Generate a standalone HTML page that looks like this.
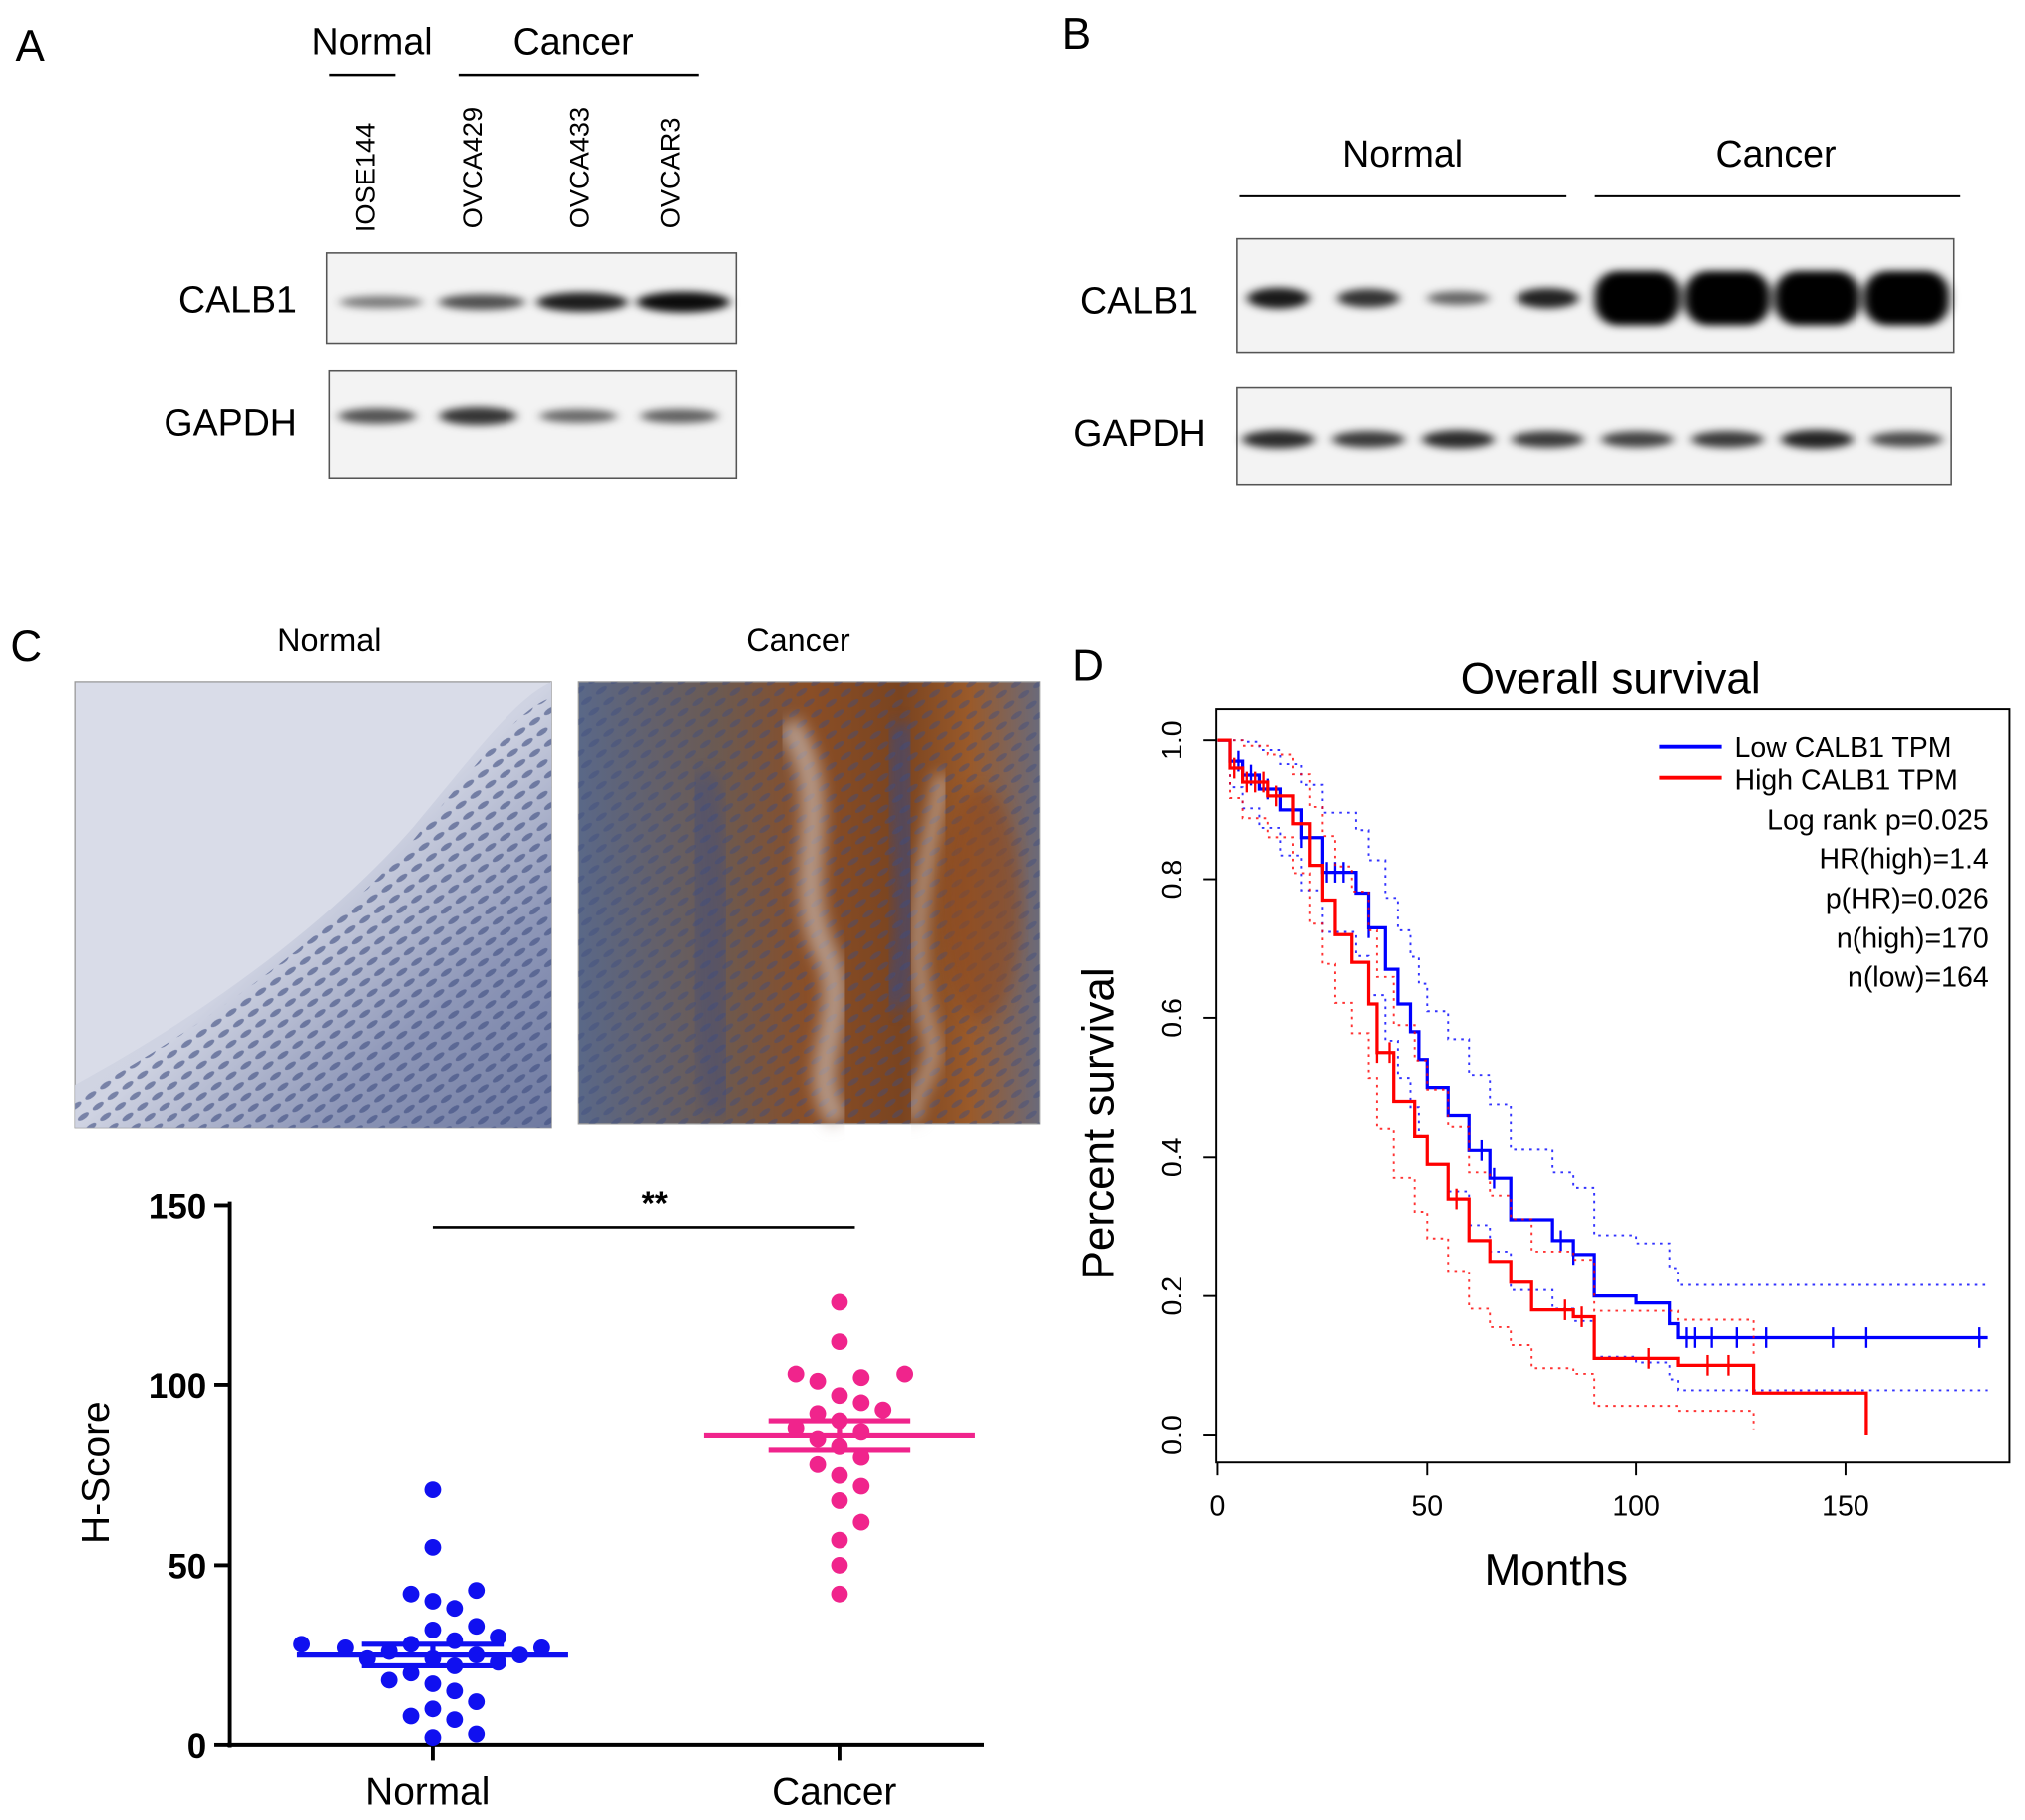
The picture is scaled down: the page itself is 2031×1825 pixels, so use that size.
<!DOCTYPE html>
<html><head><meta charset="utf-8"><style>
html,body{margin:0;padding:0;background:#fff;}
svg{display:block;font-family:"Liberation Sans",Arial,sans-serif;}
</style></head><body>
<svg id="fig" width="2031" height="1825" viewBox="0 0 1568 1409" xmlns="http://www.w3.org/2000/svg">
<defs>
<filter id="blur" x="-50%" y="-200%" width="200%" height="500%"><feGaussianBlur stdDeviation="4 3"/></filter>
<filter id="blur2"><feGaussianBlur stdDeviation="6"/></filter>
<linearGradient id="normTissue" x1="0" y1="0" x2="1" y2="1">
<stop offset="0" stop-color="#d8dce8"/><stop offset="0.5" stop-color="#cfd3e2"/><stop offset="0.75" stop-color="#8e97b8"/><stop offset="1" stop-color="#6f7aa0"/></linearGradient>
<linearGradient id="canTissue" x1="0" y1="0" x2="1" y2="0">
<stop offset="0" stop-color="#5a6888"/><stop offset="0.3" stop-color="#6b5a52"/><stop offset="0.5" stop-color="#8a4e26"/><stop offset="0.7" stop-color="#7a4420"/><stop offset="0.85" stop-color="#9a5a2a"/><stop offset="1" stop-color="#6a6a7a"/></linearGradient>
<pattern id="nuclei" width="14" height="10" patternUnits="userSpaceOnUse" patternTransform="rotate(-35)">
<ellipse cx="5" cy="5" rx="5" ry="2" fill="#3e4c80" opacity="0.6"/></pattern>
</defs>

<g>
<text x="12" y="47" font-size="34">A</text>
<text x="288" y="42" font-size="29" text-anchor="middle">Normal</text>
<line x1="255" y1="58" x2="306" y2="58" stroke="#000" stroke-width="2"/>
<text x="444" y="42" font-size="29" text-anchor="middle">Cancer</text>
<line x1="355" y1="58" x2="541" y2="58" stroke="#000" stroke-width="2"/>
<text transform="translate(290,180) rotate(-90)" font-size="21">IOSE144</text>
<text transform="translate(373,177) rotate(-90)" font-size="21">OVCA429</text>
<text transform="translate(456,177) rotate(-90)" font-size="21">OVCA433</text>
<text transform="translate(526,177) rotate(-90)" font-size="21">OVCAR3</text>
<text x="230" y="242" font-size="29" text-anchor="end">CALB1</text>
<text x="230" y="337" font-size="29" text-anchor="end">GAPDH</text>
<rect x="253" y="196" width="317" height="70" fill="#f3f3f3" stroke="#555" stroke-width="1.2"/>
<rect x="255" y="287" width="315" height="83" fill="#f3f3f3" stroke="#555" stroke-width="1.2"/>
<g id="bandsA" filter="url(#blur)"></g>
</g>

<g>
<text x="822" y="38" font-size="34">B</text>
<text x="1086" y="129" font-size="29" text-anchor="middle">Normal</text>
<line x1="960" y1="152" x2="1213" y2="152" stroke="#000" stroke-width="1.5"/>
<text x="1375" y="129" font-size="29" text-anchor="middle">Cancer</text>
<line x1="1235" y1="152" x2="1518" y2="152" stroke="#000" stroke-width="1.5"/>
<text x="928" y="243" font-size="29" text-anchor="end">CALB1</text>
<text x="934" y="345" font-size="29" text-anchor="end">GAPDH</text>
<rect x="958" y="185" width="555" height="88" fill="#f3f3f3" stroke="#555" stroke-width="1.2"/>
<rect x="958" y="300" width="553" height="75" fill="#f3f3f3" stroke="#555" stroke-width="1.2"/>
<g id="bandsB" filter="url(#blur)"></g>
</g>

<g>
<text x="8" y="512" font-size="34">C</text>
<text x="255" y="504" font-size="25" text-anchor="middle">Normal</text>
<text x="618" y="504" font-size="25" text-anchor="middle">Cancer</text>
<g>
<rect x="58" y="528" width="369" height="345" fill="#d9dce8" stroke="#999"/>
<path d="M58,840 C150,790 250,720 320,640 C370,580 400,540 427,528 L427,873 L58,873 Z" fill="url(#normTissue)"/>
<path d="M58,850 C150,800 250,730 320,650 C370,590 400,550 427,540 L427,873 L58,873 Z" fill="url(#nuclei)"/>
</g>
<g>
<rect x="448" y="528" width="357" height="342" fill="url(#canTissue)" stroke="#999"/>
<rect x="448" y="528" width="357" height="342" fill="url(#nuclei)" opacity="0.7"/>
<path d="M610,560 C650,620 610,680 640,740 C660,790 620,830 650,868" stroke="#c8b8b0" stroke-width="18" fill="none" filter="url(#blur2)" opacity="0.7"/>
<path d="M730,600 C720,660 700,720 720,800 C730,830 700,850 710,868" stroke="#d0c0b8" stroke-width="12" fill="none" filter="url(#blur2)" opacity="0.6"/>
<path d="M700,560 C690,640 720,700 690,780" stroke="#3e4c80" stroke-width="22" fill="none" filter="url(#blur2)" opacity="0.6"/>
<path d="M540,600 C560,700 540,780 560,860" stroke="#3e4c80" stroke-width="30" fill="none" filter="url(#blur2)" opacity="0.4"/>
<ellipse cx="760" cy="700" rx="30" ry="90" fill="#8a4a20" opacity="0.6" filter="url(#blur2)"/>
</g>
<g id="dotplot">
<text transform="translate(84,1140) rotate(-90)" font-size="30" text-anchor="middle">H-Score</text>
<line x1="178" y1="930" x2="178" y2="1353" stroke="#000" stroke-width="3"/>
<line x1="176" y1="1351" x2="762" y2="1351" stroke="#000" stroke-width="3"/>
<g id="cYTicks"></g><g id="cXTicks"></g>
<line x1="335" y1="950" x2="662" y2="950" stroke="#000" stroke-width="2"/>
<text x="507" y="940" font-size="26" font-weight="bold" text-anchor="middle">**</text>
<g id="cDots"></g>
</g>
</g>

<g>
<text x="830" y="527" font-size="34">D</text>
<text x="1247" y="537" font-size="34" text-anchor="middle">Overall survival</text>
<rect x="942" y="549" width="614" height="583" fill="none" stroke="#000" stroke-width="1.5"/>
<text x="1205" y="1227" font-size="34" text-anchor="middle">Months</text>
<text transform="translate(862,870) rotate(-90)" font-size="34" text-anchor="middle">Percent survival</text>
<g id="dTicks"></g>
<g id="dCurves"></g>
<g>
<line x1="1285" y1="578" x2="1333" y2="578" stroke="#0000ff" stroke-width="3"/>
<text x="1343" y="586" font-size="22">Low CALB1 TPM</text>
<line x1="1285" y1="602" x2="1333" y2="602" stroke="#ff0000" stroke-width="3"/>
<text x="1343" y="611" font-size="22">High CALB1 TPM</text>
<g font-size="22" text-anchor="end">
<text x="1540" y="642">Log rank p=0.025</text>
<text x="1540" y="672">HR(high)=1.4</text>
<text x="1540" y="703">p(HR)=0.026</text>
<text x="1540" y="734">n(high)=170</text>
<text x="1540" y="764">n(low)=164</text>
</g>
</g>
</g>
</svg>
<script>
const NS='http://www.w3.org/2000/svg';
function mk(tag,attrs,parent){const e=document.createElementNS(NS,tag);for(const k in attrs)e.setAttribute(k,attrs[k]);parent.appendChild(e);return e;}

const bandA_calb1=[0.35,0.6,0.9,1.0];
const bandA_gapdh=[0.6,0.8,0.45,0.5];
const bandB_calb1=[0.85,0.7,0.4,0.8,1,1,1,1];
const bandB_gapdh=[0.8,0.7,0.8,0.7,0.65,0.7,0.85,0.6];

const bA=document.getElementById('bandsA');
const laneA=i=>295+i*78;
bandA_calb1.forEach((v,i)=>{const e=mk('ellipse',{cx:laneA(i),cy:234,rx:30+v*6,ry:3+v*5,fill:'#000',opacity:0.25+v*0.7},bA);

});
bandA_gapdh.forEach((v,i)=>{const e=mk('ellipse',{cx:laneA(i)-3,cy:322,rx:30,ry:3+v*5,fill:'#000',opacity:0.3+v*0.6},bA);

});

const bB=document.getElementById('bandsB');
const laneB=i=>990+i*69.5;
bandB_calb1.forEach((v,i)=>{let e;
if(i>=4){e=mk('rect',{x:laneB(i)-33,y:210,width:66,height:42,rx:18,fill:'#000'},bB);}
else{e=mk('ellipse',{cx:laneB(i),cy:231,rx:24,ry:3+v*6,fill:'#000',opacity:0.3+v*0.7},bB);}

});
bandB_gapdh.forEach((v,i)=>{const e=mk('ellipse',{cx:laneB(i),cy:340,rx:28,ry:3+v*5,fill:'#000',opacity:0.3+v*0.65},bB);

});

const cCategories=['Normal','Cancer'];
const cYTickValues=[0,50,100,150];
const normalScores=[71,55,43,42,40,38,33,32,30,29,28,28,27,27,26,25,25,24,24,23,22,20,18,17,15,12,10,8,7,3,2];
const cancerScores=[123,112,102,103,103,101,97,95,93,92,90,88,87,85,83,80,78,75,72,68,62,57,50,42];
const cMeans=[25,86];
const cSEM=[3,4];
const cy=v=>1351-v*(418/150);
const cx=i=>[335,650][i];
const yt=document.getElementById('cYTicks');
cYTickValues.forEach(v=>{mk('line',{x1:166,x2:178,y1:cy(v),y2:cy(v),stroke:'#000','stroke-width':3},yt);
const t=mk('text',{x:160,y:cy(v)+10,'font-size':27,'font-weight':'bold','text-anchor':'end'},yt);t.textContent=v;

});
const xt=document.getElementById('cXTicks');
cCategories.forEach((c,i)=>{mk('line',{x1:cx(i),x2:cx(i),y1:1351,y2:1363,stroke:'#000','stroke-width':3},xt);
const t=mk('text',{x:cx(i)-4,y:1397,'font-size':30,'text-anchor':'middle'},xt);t.textContent=c;

});
const dg=document.getElementById('cDots');
const colors=['#1010f0','#f0248c'];
[normalScores,cancerScores].forEach((arr,gi)=>{
  const placed=[];const r=6.5;
  arr.slice().sort((a,b)=>a-b).forEach(v=>{
    const y=cy(v);let off=0,k=0;
    while(true){off=(k%2?1:-1)*Math.ceil(k/2)*2*r*1.3;
      if(placed.every(p=>Math.hypot(p[0]-off,p[1]-y)>=2*r*1.35))break;k++;}
    placed.push([off,y]);
    const d=mk('circle',{cx:cx(gi)+off,cy:y,r:r,fill:colors[gi]},dg);
    
    
  });
  const m=mk('line',{x1:cx(gi)-105,x2:cx(gi)+105,y1:cy(cMeans[gi]),y2:cy(cMeans[gi]),stroke:colors[gi],'stroke-width':4},dg);
  
  
  [1,-1].forEach(s=>{const e=mk('line',{x1:cx(gi)-55,x2:cx(gi)+55,y1:cy(cMeans[gi]+s*cSEM[gi]),y2:cy(cMeans[gi]+s*cSEM[gi]),stroke:colors[gi],'stroke-width':4},dg);
  
  });
  mk('line',{x1:cx(gi),x2:cx(gi),y1:cy(cMeans[gi]+cSEM[gi]),y2:cy(cMeans[gi]-cSEM[gi]),stroke:colors[gi],'stroke-width':4},dg);
});

const kmXTicks=[0,50,100,150];
const kmYTicks=[0,0.2,0.4,0.6,0.8,1.0];
const lowTimes=[0,3,6,10,15,20,25,33,36,40,43,46,48,50,55,60,65,70,80,85,90,100,108,110];
const lowSurv=[1,0.97,0.95,0.93,0.9,0.86,0.81,0.78,0.73,0.67,0.62,0.58,0.54,0.5,0.46,0.41,0.37,0.31,0.28,0.26,0.2,0.19,0.16,0.14];
const lowEnd=184;
const highTimes=[0,3,6,12,18,22,25,28,32,36,38,42,47,50,55,60,65,70,75,85,90,110,128];
const highSurv=[1,0.96,0.94,0.92,0.88,0.82,0.77,0.72,0.68,0.62,0.55,0.48,0.43,0.39,0.34,0.28,0.25,0.22,0.18,0.17,0.11,0.1,0.06];
const highEnd=155;
const lowCensor=[5,8,12,20,26,28,30,36,63,66,82,85,112,114,118,124,131,147,155,182];
const highCensor=[4,7,9,11,14,38,41,57,83,87,103,117,122];
const kx=t=>943+t*3.24;
const ky=s=>1111-s*538;
const dt=document.getElementById('dTicks');
kmXTicks.forEach(v=>{mk('line',{x1:kx(v),x2:kx(v),y1:1132,y2:1142,stroke:'#000','stroke-width':1.5},dt);
const t=mk('text',{x:kx(v),y:1173,'font-size':22,'text-anchor':'middle'},dt);t.textContent=v;

});
kmYTicks.forEach(v=>{mk('line',{x1:932,x2:942,y1:ky(v),y2:ky(v),stroke:'#000','stroke-width':1.5},dt);
const t=mk('text',{transform:`translate(915,${ky(v)}) rotate(-90)`,'font-size':22,'text-anchor':'middle'},dt);t.textContent=v.toFixed(1);

});
const dc=document.getElementById('dCurves');
function stepPath(times,vals,end,drop){let d=`M${kx(times[0])},${ky(vals[0])}`;
for(let i=1;i<times.length;i++){d+=`H${kx(times[i])}V${ky(vals[i])}`;}
d+=`H${kx(end)}`;if(drop)d+=`V${ky(0)}`;return d;}
function survAt(times,vals,t){let s=vals[0];for(let i=0;i<times.length;i++)if(times[i]<=t)s=vals[i];return s;}
function ci(vals,sign){return vals.map(s=>Math.max(0,Math.min(1,s+sign*1.96*Math.sqrt(s*(1-s)/80))));}
[[lowTimes,lowSurv,lowEnd,false,'#0000ff',lowCensor,'low'],[highTimes,highSurv,highEnd,true,'#ff0000',highCensor,'high']].forEach(([T,S,E,drop,col,cen,nm])=>{
  [1,-1].forEach(sg=>{const p=mk('path',{d:stepPath(T,ci(S,sg),nm==='high'?128:E,false),fill:'none',stroke:col,'stroke-width':1.5,'stroke-dasharray':'2 4',opacity:0.8},dc);
  
  });
  const p=mk('path',{d:stepPath(T,S,E,drop),fill:'none',stroke:col,'stroke-width':2.5},dc);
  
  
  cen.forEach(t=>{const y=ky(survAt(T,S,t));const c=mk('line',{x1:kx(t),x2:kx(t),y1:y-8,y2:y+8,stroke:col,'stroke-width':1.8},dc);
  
  });
});
</script>
</body></html>
